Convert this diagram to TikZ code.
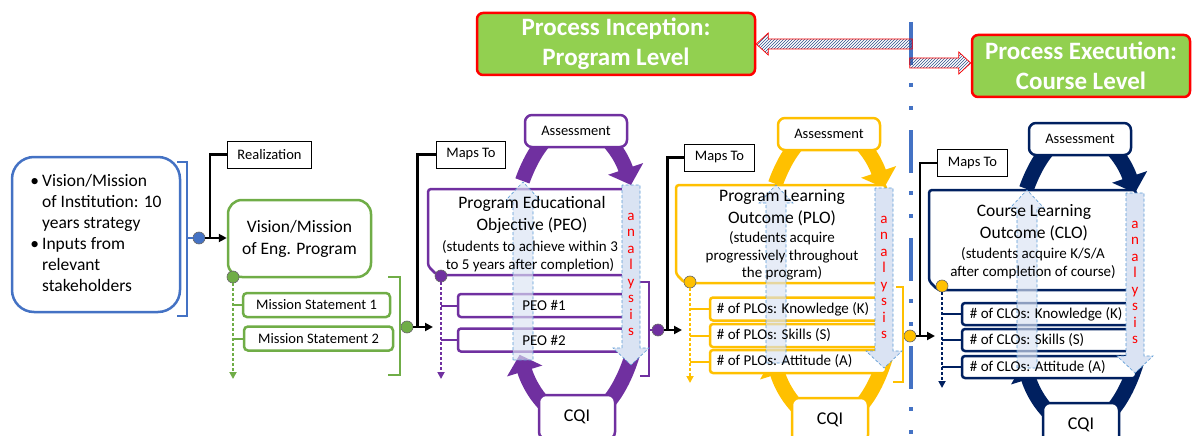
\documentclass[tikz,border=0pt]{standalone}
\usepackage{fontspec}
\setmainfont{Carlito}
\usetikzlibrary{arrows.meta,patterns,calc}

\definecolor{instblue}{HTML}{4472C4}
\definecolor{proggreen}{HTML}{70AD47}
\definecolor{peopurple}{HTML}{7030A0}
\definecolor{plogold}{HTML}{FFC000}
\definecolor{clonavy}{HTML}{002060}
\definecolor{titlegreen}{HTML}{92D050}
\definecolor{anafill}{HTML}{DAE3F3}
\definecolor{anaedge}{HTML}{5B9BD5}

\tikzset{
  lbl/.style={draw, line width=0.8, minimum height=27, inner xsep=10, font=\fontsize{14.5}{17}\selectfont},
  titlebox/.style={draw=red, line width=2.5, fill=titlegreen, rounded corners=6, text=white, align=center,
    inner sep=0, font=\fontsize{25}{30}\selectfont\bfseries},
  hatch/.style={draw=red, line width=0.7, pattern=north east lines, pattern color=instblue!70!black},
  divider/.style={draw=instblue, line width=4, dash pattern=on 43pt off 18pt on 4pt off 19pt on 4pt off 20pt},
  instbox/.style={draw=instblue, line width=2.5, rounded corners=22, fill=white, minimum width=168,
    minimum height=155, inner sep=0, font=\fontsize{17.5}{21}\selectfont},
  progbox/.style={draw=proggreen, line width=2.5, rounded corners=14, fill=white, minimum width=143,
    minimum height=77, inner sep=0, align=center, font=\fontsize{17.5}{22}\selectfont},
  msbox/.style={draw=proggreen, line width=2.5, rounded corners=4, fill=white, minimum height=24,
    inner sep=0, font=\fontsize{14.5}{17}\selectfont},
  brk/.style={draw=#1, line width=2.5},
  joint/.style={circle, fill=#1, draw=black!60, line width=0.6, minimum size=12, inner sep=0},
  conn/.style={line width=2.5, -{Triangle[length=8pt,width=8pt]}},
  branch/.style={line width=2.5},
  vline/.style={draw=#1, line width=2, dash pattern=on 2.5pt off 2.5pt, -{Triangle[length=7pt,width=7pt]}},
  stub/.style={draw=#1, line width=2},
  cycarc/.style={draw=#1, line width=15, -{Triangle[length=17pt,width=36pt]}},
  cycbox/.style={draw=#1, line width=2.5, rounded corners=7, fill=white, inner sep=0,
    font=\fontsize{14.5}{17}\selectfont},
  mainbox/.style={draw=#1, line width=2.5, rounded corners=3, fill=white},
  subbox/.style={draw=#1, line width=2.5, rounded corners=3, fill=white, inner sep=0, minimum height=23},
  uparrow/.style={draw=anaedge, densely dashed, line width=0.6, fill=anafill, fill opacity=0.65},
  anaarrow/.style={draw=anaedge, densely dashed, line width=0.6, fill=anafill},
  analetter/.style={text=red, anchor=base, inner sep=0, font=\fontsize{15}{15}\selectfont},
  headtxt/.style={align=center, inner sep=0, font=\fontsize{17.5}{21.5}\selectfont},
  notetxt/.style={align=center, inner sep=0, font=\fontsize{15}{17.5}\selectfont},
  subtxt/.style={inner sep=0, font=\fontsize{15}{17}\selectfont}
}

\begin{document}
\begin{tikzpicture}[x=1pt, y=-1pt]
  \useasboundingbox (0,0) rectangle (1192,436);

  % divider and level titles
  \draw[divider] (911,22) -- (911,436);
  \node[titlebox, minimum width=278, minimum height=62] (incep) at (616,44) {Process Inception:\\Program Level};
  \node[titlebox, minimum width=218, minimum height=62] (exec) at (1081,66) {Process Execution:\\Course Level};
  \draw[hatch] (incep.east) -- ++(12,-11) -- ++(0,6) -- ++(144,0) -- ++(0,10) -- ++(-144,0) -- ++(0,6) -- cycle;
  \draw[hatch] ([yshift=3pt]exec.west) -- ++(-12,-11) -- ++(0,6) -- ++(-49,0) -- ++(0,10) -- ++(49,0) -- ++(0,6) -- cycle;

  % institution and program vision
  \node[instbox] (inst) at (96,234.5) {\begin{tabular}{@{}l@{\hspace{3pt}}l@{}}
    \textbullet & Vision/Mission\\ & of Institution: 10\\ & years strategy\\
    \textbullet & Inputs from\\ & relevant\\ & stakeholders\end{tabular}};
  \node[progbox] (vis) at (299.5,238.5) {Vision/Mission\\of Eng. Program};
  \node[lbl] (real) at (269.5,154.5) {Realization};
  \node[lbl] (mapa) at (471,154.5) {Maps To};
  \node[lbl] (mapb) at (719.5,157.5) {Maps To};
  \node[lbl] (mapc) at (972.5,163) {Maps To};

  \node[msbox, minimum width=147] (ms1) at (316.5,305) {Mission Statement 1};
  \node[msbox, minimum width=149] (ms2) at (318.5,338.5) {Mission Statement 2};
  \node[joint=proggreen] (gd) at (233,277) {};
  \coordinate (gend) at (233,379);
  \draw[vline=proggreen] (gd) -- (gend);
  \foreach \m in {ms1,ms2}
    \draw[stub=proggreen] (\m.west -| gd) -- (\m.west);

  % joints and connectors
  \node[joint=instblue] (j1) at (199,238) {};
  \node[joint=proggreen] (j2) at (407,327) {};
  \node[joint=peopurple] (j3) at (658,330) {};
  \node[joint=plogold] (j4) at (910,336) {};
  \coordinate (in2) at (433,327);
  \coordinate (in3) at (682,330);
  \coordinate (in4) at (935,336);
  \draw[brk=instblue] (177,162) -- (187,162) -- (187,316) -- (177,316);
  \draw[brk=instblue] (187,238) -- (j1);
  \draw[brk=proggreen] (388,277) -- (400,277) -- (400,375) -- (388,375);

  \foreach \jn/\tg/\lb in {j1/vis.west/real, j2/in2/mapa, j3/in3/mapb, j4/in4/mapc}{
    \draw[conn] (\jn) -- (\jn -| \tg);
    \draw[branch] ($(\jn)!0.4!(\jn -| \tg)$) |- (\lb.west);
  }

  % improvement cycles
  \foreach \ox/\oy/\clr in {576/272/peopurple, 829/275/plogold, 1080/280/clonavy}{
    \begin{scope}[shift={(\ox,\oy)}]
      \draw[cycarc=\clr] (0,0) ++(142:68pt and 148pt) arc[start angle=142, end angle=36, x radius=68pt, y radius=148pt];
      \draw[cycarc=\clr] (0,0) ++(-34:68pt and 148pt) arc[start angle=-34, end angle=-146, x radius=68pt, y radius=148pt];
    \end{scope}
  }

  % PEO
  \draw[mainbox=peopurple] (630,275) -- (437,275) -- (428,266) -- (428,189) -- (630,189) -- cycle;
  \node[subbox=peopurple, minimum width=172] (peo1) at (544,305.5) {};
  \node[subbox=peopurple, minimum width=172] (peo2) at (544,340) {};
  \node[joint=peopurple] (pd) at (441,276) {};
  \coordinate (pend) at (441,379);
  \draw[vline=peopurple] (pd) -- (pend);
  \foreach \m in {peo1,peo2}
    \draw[stub=peopurple] (\m.west -| pd) -- (\m.west);
  \draw[brk=peopurple] (631,282) -- (649,282) -- (649,376) -- (640,376);
  \draw[brk=peopurple] (649,330) -- (j3);

  % PLO
  \draw[mainbox=plogold] (886,283) -- (685,283) -- (676,274) -- (676,185) -- (886,185) -- cycle;
  \node[subbox=plogold, minimum width=176] (plo1) at (798,309) {};
  \node[subbox=plogold, minimum width=176] (plo2) at (798,335.5) {};
  \node[subbox=plogold, minimum width=176] (plo3) at (798,361.5) {};
  \node[joint=plogold] (od) at (690,282) {};
  \coordinate (oend) at (690,383);
  \draw[vline=plogold] (od) -- (oend);
  \foreach \m in {plo1,plo2,plo3}
    \draw[stub=plogold] (\m.west -| od) -- (\m.west);
  \draw[brk=plogold] (896,287) -- (903,287) -- (903,382) -- (893,382);

  % CLO
  \draw[mainbox=clonavy] (1136,290) -- (938,290) -- (929,281) -- (929,190) -- (1136,190) -- cycle;
  \node[subbox=clonavy, minimum width=174, minimum height=22] (clo1) at (1049,314) {};
  \node[subbox=clonavy, minimum width=174, minimum height=22] (clo2) at (1049,340) {};
  \node[subbox=clonavy, minimum width=174, minimum height=22] (clo3) at (1049,367) {};
  \node[joint=plogold] (nd) at (942,286) {};
  \coordinate (nend) at (942,388);
  \draw[vline=clonavy] (nd) -- (nend);
  \foreach \m in {clo1,clo2,clo3}
    \draw[stub=clonavy] (\m.west -| nd) -- (\m.west);

  % assessment, CQI and analysis arrows
  \foreach \ox/\oy/\clr/\stg in {576/272/peopurple/a, 829/275/plogold/b, 1080/280/clonavy/c}{
    \begin{scope}[shift={(\ox,\oy)}]
      \node[cycbox=\clr, minimum width=102, minimum height=32] (assess\stg) at (0,-141) {Assessment};
      \node[cycbox=\clr, minimum width=76, minimum height=44, font=\fontsize{18}{20}\selectfont] (cqi\stg) at (1,145) {CQI};
      \draw[uparrow] (-63,88) -- (-63,-72) -- (-70,-72) -- (-53,-90) -- (-36,-72) -- (-43,-72) -- (-43,88) -- cycle;
      \draw[anaarrow] (46,-87) -- (46,76) -- (37,76) -- (55,93) -- (73,76) -- (64,76) -- (64,-87) -- cycle;
      \foreach \ch [count=\k] in {a,n,a,l,y,s,i,s}
        \node[analetter] (ana\stg\k) at (55,{-52+16.5*(\k-1)}) {\ch};
    \end{scope}
  }

  % texts
  \node[headtxt] (peohead) at (532,215) {Program Educational\\Objective (PEO)};
  \node[notetxt] (peonote) at (530,256) {(students to achieve within 3\\to 5 years after completion)};
  \node[headtxt] (plohead) at (782,207.5) {Program Learning\\Outcome (PLO)};
  \node[notetxt] (plonote) at (782,256) {(students acquire\\progressively throughout\\the program)};
  \node[headtxt] (clohead) at (1034,222.5) {Course Learning\\Outcome (CLO)};
  \node[notetxt] (clonote) at (1033,263) {(students acquire K/S/A\\after completion of course)};

  \node[subtxt] (tpeo1) at (peo1) {PEO \#1};
  \node[subtxt] (tpeo2) at (peo2) {PEO \#2};
  \foreach \m/\lvl in {plo1/Knowledge (K), plo2/Skills (S), plo3/Attitude (A)}
    \node[subtxt, anchor=west] (t\m) at ([xshift=8pt]\m.west) {\# of PLOs: \lvl};
  \foreach \m/\lvl in {clo1/Knowledge (K), clo2/Skills (S), clo3/Attitude (A)}
    \node[subtxt, anchor=west] (t\m) at ([xshift=9pt]\m.west) {\# of CLOs: \lvl};
\end{tikzpicture}
\end{document}
